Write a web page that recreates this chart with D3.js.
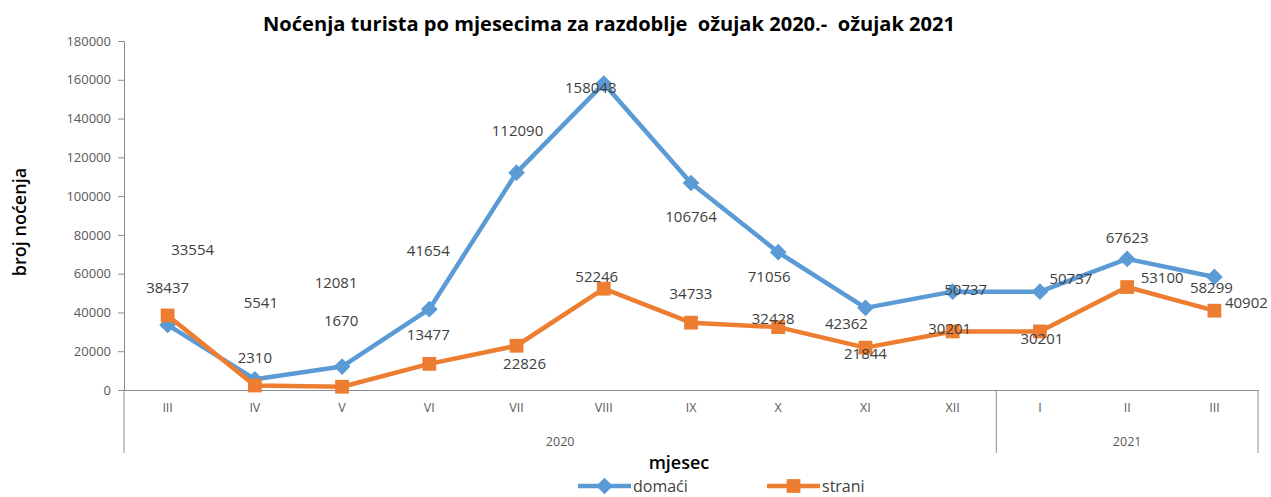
<!DOCTYPE html>
<html><head><meta charset="utf-8">
<script src="https://cdn.jsdelivr.net/npm/d3@7"></script>
<style>
html,body{margin:0;padding:0;background:#fff;}
svg{display:block;}
text{font-family:"Open Sans","Noto Sans",sans-serif;}
</style></head>
<body><svg id="c" width="1271" height="497"></svg>
<script>
const months = ["III","IV","V","VI","VII","VIII","IX","X","XI","XII","I","II","III"];
const years = [{label:"2020", from:0, to:9},{label:"2021", from:10, to:12}];
const domaci = [33554,5541,12081,41654,112090,158048,106764,71056,42362,50737,50737,67623,58299];
const strani = [38437,2310,1670,13477,22826,52246,34733,32428,21844,30201,30201,53100,40902];
const yTicks = [0,20000,40000,60000,80000,100000,120000,140000,160000,180000];
// label placement offsets (dx, dy) relative to each point, mimicking the reference
const domaciLabelOffset = [[25,-75],[6,-77],[-6,-84],[-1,-58],[1,-42],[-13,4],[0,34],[-9,25],[-19,16],[13,-2],[31,-13],[0,-21],[-3,11]];
const straniLabelOffset = [[0,-28],[0,-28],[-1,-66],[-1,-29],[8,18],[-7,-12],[0,-29],[-5,-8],[0,6],[-3,-3],[2,7],[35,-9],[32,-8]];

const svg = d3.select("#c");
const L=124, R=1258, T=41, B=390;
const x = d3.scaleBand().domain(d3.range(months.length)).range([L,R]);
const cx = i => x(i)+x.bandwidth()/2;
const y = d3.scaleLinear().domain([0,180000]).range([B,T]);
const axisCol = "#8c8c8c", tickTxt = "#595959";

// y axis
const ya = svg.append("g").attr("transform",`translate(${L},0)`)
  .call(d3.axisLeft(y).tickValues(yTicks).tickSize(6).tickPadding(7).tickFormat(d3.format("d")));
ya.select(".domain").attr("stroke",axisCol);
ya.selectAll(".tick line").attr("stroke",axisCol);
ya.selectAll(".tick text").attr("fill",tickTxt).style("font-size","13px").style("font-family","'Open Sans',sans-serif");

// x axis (months)
const xa = svg.append("g").attr("transform",`translate(0,${B})`)
  .call(d3.axisBottom(x).tickSize(0).tickPadding(13).tickFormat(i=>months[i]));
xa.select(".domain").attr("stroke",axisCol);
xa.selectAll(".tick text").attr("fill",tickTxt).style("font-size","12.5px").style("font-family","'Open Sans',sans-serif");

// year group dividers
const divX = [L, x(years[1].from), R];
svg.selectAll("line.div").data(divX).enter().append("line")
  .attr("x1",d=>d).attr("x2",d=>d).attr("y1",B).attr("y2",453)
  .attr("stroke",axisCol).attr("stroke-width",1);
svg.selectAll("text.year").data(years).enter().append("text")
  .attr("x",d=>(x(d.from)+x(d.to)+x.bandwidth())/2).attr("y",446)
  .attr("text-anchor","middle").attr("fill",tickTxt).style("font-size","12.5px").text(d=>d.label);

// series
const series = [
  {name:"domaći", values:domaci, color:"#5B9BD5", marker:"diamond", off:domaciLabelOffset},
  {name:"strani", values:strani, color:"#ED7D31", marker:"square", off:straniLabelOffset}
];
const line = d3.line().x((d,i)=>cx(i)).y(d=>y(d));
const diamond = d3.symbol().type(d3.symbolSquare).size(140);
const square = d3.symbol().type(d3.symbolSquare).size(190);
const markerT = (m,px,py) => `translate(${px},${py})` + (m==="diamond" ? " rotate(45)" : "");

series.forEach(s=>{
  svg.append("path").attr("d",line(s.values)).attr("fill","none")
    .attr("stroke",s.color).attr("stroke-width",4.5).attr("stroke-linejoin","round");
  svg.selectAll(null).data(s.values).enter().append("path")
    .attr("transform",(d,i)=>markerT(s.marker,cx(i),y(d)))
    .attr("d",s.marker==="diamond"?diamond():square()).attr("fill",s.color);
});
series.forEach(s=>{
  svg.selectAll(null).data(s.values).enter().append("text")
    .attr("x",(d,i)=>cx(i)+s.off[i][0]).attr("y",(d,i)=>y(d)+s.off[i][1])
    .attr("dy","0.35em").attr("text-anchor","middle").attr("fill","#404040")
    .style("font-size","15px").text(d=>d);
});

// titles
svg.append("text").attr("x",609).attr("y",31).attr("text-anchor","middle")
  .style("font-family","'Liberation Sans Narrow','Open Sans',sans-serif").style("font-weight","bold")
  .style("font-size","19px").style("white-space","pre").attr("fill","#000")
  .attr("textLength",692).attr("lengthAdjust","spacingAndGlyphs")
  .text("Noćenja turista po mjesecima za razdoblje  ožujak 2020.-  ožujak 2021");
svg.append("text").attr("transform","translate(26,222) rotate(-90)").attr("text-anchor","middle")
  .style("font-family","'Liberation Sans Narrow','Open Sans',sans-serif").style("font-weight","600")
  .style("font-size","18px").attr("fill","#000").text("broj noćenja");
svg.append("text").attr("x",679).attr("y",469).attr("text-anchor","middle")
  .style("font-family","'Liberation Sans Narrow','Open Sans',sans-serif").style("font-weight","600")
  .style("font-size","18px").attr("fill","#000").text("mjesec");

// legend
const leg = [{s:series[0], x1:578, x2:631}, {s:series[1], x1:767, x2:820}];
const ly = 486;
leg.forEach(l=>{
  svg.append("line").attr("x1",l.x1).attr("x2",l.x2).attr("y1",ly).attr("y2",ly)
    .attr("stroke",l.s.color).attr("stroke-width",4.5);
  svg.append("path").attr("transform",markerT(l.s.marker,(l.x1+l.x2)/2,ly))
    .attr("d",l.s.marker==="diamond"?diamond():square()).attr("fill",l.s.color);
  svg.append("text").attr("x",l.x2+2).attr("y",ly).attr("dy","0.35em")
    .style("font-size","16px").attr("fill","#404040").text(l.s.name);
});
</script></body></html>
